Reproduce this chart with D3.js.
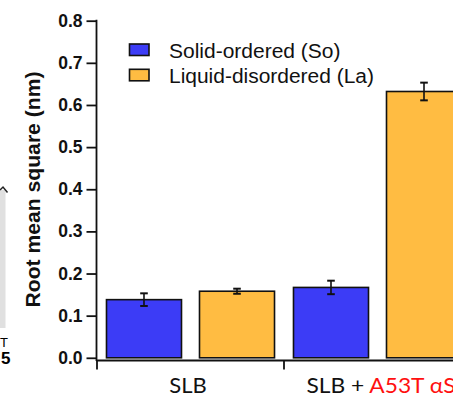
<!DOCTYPE html>
<html>
<head>
<meta charset="utf-8">
<script src="https://cdn.jsdelivr.net/npm/d3@7"></script>
<style>
  html, body { margin: 0; padding: 0; background: #fff; }
  svg { display: block; }
</style>
</head>
<body>
<svg id="chart" width="453" height="395"></svg>
<script>
// Surface roughness per membrane phase
const groups = ["SLB", "SLB + A53T αS"];
const groupPlain = ["SLB", "SLB + "];
const groupRed = ["", "A53T αS"];
const series = ["Solid-ordered (So)", "Liquid-disordered (La)"];
const soValues = [0.138, 0.167];
const soErrors = [0.015, 0.016];
const laValues = [0.158, 0.632];
const laErrors = [0.006, 0.021];
const yTicks = [0, 0.1, 0.2, 0.3, 0.4, 0.5, 0.6, 0.7, 0.8];
const yTickLabels = ["0.0", "0.1", "0.2", "0.3", "0.4", "0.5", "0.6", "0.7", "0.8"];
const colors = ["#3c3cf6", "#ffbc42"];

const svg = d3.select("#chart");

const y = d3.scaleLinear().domain([0, 0.8]).range([357.8, 20.7]);
const x0 = d3.scaleBand().domain(groups).range([97, 471]).padding(0);
const x1 = d3.scaleBand().domain(series).range([0, x0.bandwidth()])
  .paddingInner(0.1935).paddingOuter(0.102);

const rows = [];
groups.forEach((g, i) => {
  rows.push({ g, s: series[0], v: soValues[i], e: soErrors[i], c: colors[0] });
  rows.push({ g, s: series[1], v: laValues[i], e: laErrors[i], c: colors[1] });
});

// fragments of the neighbouring panel at the left edge
const left = svg.append("g");
left.append("rect").attr("x", -4).attr("y", 190).attr("width", 9.5).attr("height", 138)
  .attr("fill", "#e0e0e0");
left.append("path").attr("d", "M0,190 L3,187 L7.5,192.5")
  .attr("fill", "none").attr("stroke", "#222").attr("stroke-width", 1.5);
left.append("text").attr("x", 8).attr("y", 347).attr("text-anchor", "end")
  .attr("font-family", "Liberation Sans, Arial, sans-serif").attr("font-size", 13).text("T");
left.append("text").attr("x", 10.5).attr("y", 363.5).attr("text-anchor", "end")
  .attr("font-family", "Liberation Sans, Arial, sans-serif").attr("font-weight", "bold")
  .attr("font-size", 17).text("5");

// bars
svg.append("g").selectAll("rect").data(rows).join("rect")
  .attr("x", d => x0(d.g) + x1(d.s))
  .attr("y", d => y(d.v))
  .attr("width", x1.bandwidth())
  .attr("height", d => y(0) - y(d.v))
  .attr("fill", d => d.c)
  .attr("stroke", "#111")
  .attr("stroke-width", 1.6);

// error bars
const eb = svg.append("g").attr("stroke", "#111").attr("stroke-width", 1.6);
rows.forEach(d => {
  const cx = x0(d.g) + x1(d.s) + x1.bandwidth() / 2;
  eb.append("line").attr("x1", cx).attr("x2", cx).attr("y1", y(d.v + d.e)).attr("y2", y(d.v - d.e));
  [d.v + d.e, d.v - d.e].forEach(t => {
    eb.append("line").attr("x1", cx - 3.8).attr("x2", cx + 3.8).attr("y1", y(t)).attr("y2", y(t))
      .attr("stroke-width", 2);
  });
});

// y axis
const yAxis = svg.append("g").attr("transform", "translate(96.5,0)")
  .call(d3.axisLeft(y).tickValues(yTicks).tickFormat((d, i) => yTickLabels[i])
    .tickSize(10).tickSizeOuter(0).tickPadding(4));
yAxis.select(".domain").remove();
yAxis.selectAll(".tick line").attr("stroke", "#111").attr("stroke-width", 1.8);
yAxis.selectAll(".tick text")
  .attr("font-family", "Liberation Sans, Arial, sans-serif")
  .attr("font-weight", "bold").attr("font-size", 17.5).attr("fill", "#111");
svg.append("line").attr("x1", 96.5).attr("x2", 96.5).attr("y1", y(0.8) - 0.9).attr("y2", 361)
  .attr("stroke", "#111").attr("stroke-width", 1.8);

// x axis with ticks at group boundaries
svg.append("line").attr("x1", 96.5).attr("x2", 471).attr("y1", 360.5).attr("y2", 360.5)
  .attr("stroke", "#111").attr("stroke-width", 1.8);
const bounds = groups.map(g => x0(g)).concat([x0.range()[1]]);
svg.append("g").selectAll("line").data(bounds).join("line")
  .attr("x1", d => d).attr("x2", d => d).attr("y1", 360.5).attr("y2", 369.5)
  .attr("stroke", "#111").attr("stroke-width", 1.8);

// group labels: the first sits on its band centre, the long second one starts
// just right of the band boundary and runs past the edge
const xl = svg.append("g").selectAll("text").data(groups).join("text")
  .attr("x", (d, i) => i === 0 ? x0(d) + x0.bandwidth() / 2 - 2.5 : x0(d) + 22.5)
  .attr("y", 392.5)
  .attr("text-anchor", (d, i) => i === 0 ? "middle" : "start")
  .attr("font-family", "Lato, sans-serif")
  .attr("font-size", 22)
  .attr("fill", "#111")
  .each(function (d, i) {
    if (i === 1) d3.select(this).attr("textLength", 149).attr("lengthAdjust", "spacingAndGlyphs");
  });
xl.append("tspan").text((d, i) => groupPlain[i]);
xl.append("tspan").attr("fill", "#ff1010").text((d, i) => groupRed[i]);

// y label
svg.append("text")
  .attr("transform", `translate(39.5,${189.5}) rotate(-90)`)
  .attr("text-anchor", "middle")
  .attr("font-family", "Liberation Sans, Arial, sans-serif")
  .attr("font-weight", "bold").attr("font-size", 19.5).attr("fill", "#111")
  .attr("textLength", 236).attr("lengthAdjust", "spacingAndGlyphs")
  .text("Root mean square (nm)");

// legend
const legendWidths = [171.5, 205];
const lg = svg.append("g");
series.forEach((s, i) => {
  const yy = 44 + i * 25.3;
  lg.append("rect").attr("x", 129.5).attr("y", yy).attr("width", 19.5).attr("height", 11.5)
    .attr("fill", colors[i]).attr("stroke", "#111").attr("stroke-width", 1.6);
  lg.append("text").attr("x", 169).attr("y", yy + 13.5)
    .attr("font-family", "Liberation Sans, Arial, sans-serif").attr("font-size", 20)
    .attr("textLength", legendWidths[i]).attr("lengthAdjust", "spacingAndGlyphs")
    .attr("fill", "#111")
    .text(s);
});
</script>
</body>
</html>
